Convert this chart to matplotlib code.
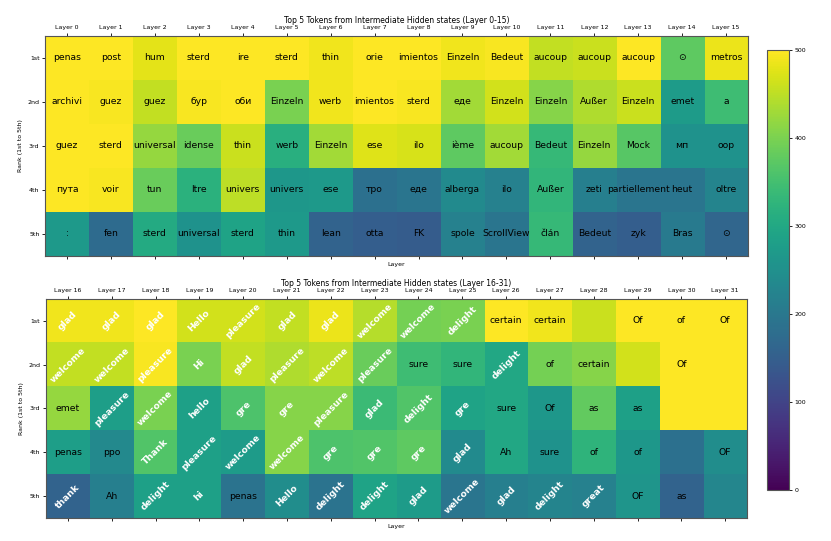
import matplotlib
matplotlib.use("Agg")
import matplotlib.pyplot as plt
import numpy as np

# Rangs et couches
ranks = ["1st", "2nd", "3rd", "4th", "5th"]
layers_top = [f"Layer {i}" for i in range(0, 16)]
layers_bottom = [f"Layer {i}" for i in range(16, 32)]

# Tokens des couches 0-15 (une ligne par rang)
tokens_top = [
    ["penas", "post", "hum", "sterd", "ire", "sterd", "thin", "orie", "imientos", "Einzeln", "Bedeut", "aucoup", "aucoup", "aucoup", "⊙", "metros"],
    ["archivi", "guez", "guez", "бур", "оби", "Einzeln", "werb", "imientos", "sterd", "еде", "Einzeln", "Einzeln", "Außer", "Einzeln", "emet", "a"],
    ["guez", "sterd", "universal", "idense", "thin", "werb", "Einzeln", "ese", "ilo", "ième", "aucoup", "Bedeut", "Einzeln", "Mock", "мп", "oop"],
    ["пута", "voir", "tun", "ltre", "univers", "univers", "ese", "тро", "еде", "alberga", "ilo", "Außer", "zeti", "partiellement", "heut", "oltre"],
    [":", "fen", "sterd", "universal", "sterd", "thin", "lean", "otta", "FK", "spole", "ScrollView", "člán", "Bedeut", "zyk", "Bras", "⊙"],
]
values_top = [
    [500, 500, 480, 500, 500, 500, 490, 500, 500, 490, 495, 455, 460, 500, 375, 485],
    [500, 495, 455, 495, 500, 400, 490, 500, 495, 430, 465, 410, 440, 460, 275, 345],
    [500, 500, 420, 385, 460, 315, 430, 475, 470, 375, 430, 335, 420, 370, 255, 255],
    [500, 495, 385, 320, 450, 265, 270, 185, 195, 240, 220, 330, 215, 195, 195, 225],
    [270, 175, 305, 255, 290, 270, 160, 150, 145, 220, 195, 335, 160, 150, 205, 165],
]

# Tokens des couches 16-31
tokens_bottom = [
    ["glad", "glad", "glad", "Hello", "pleasure", "glad", "glad", "welcome", "welcome", "delight", "certain", "certain", "", "Of", "of", "Of"],
    ["welcome", "welcome", "pleasure", "Hi", "glad", "pleasure", "welcome", "pleasure", "sure", "sure", "delight", "of", "certain", "", "Of", ""],
    ["emet", "pleasure", "welcome", "hello", "gre", "gre", "pleasure", "glad", "delight", "gre", "sure", "Of", "as", "as", "", ""],
    ["penas", "ppo", "Thank", "pleasure", "welcome", "welcome", "gre", "gre", "gre", "glad", "Ah", "sure", "of", "of", "", "OF"],
    ["thank", "Ah", "delight", "hi", "penas", "Hello", "delight", "delight", "glad", "welcome", "glad", "delight", "great", "OF", "as", ""],
]
values_bottom = [
    [490, 490, 500, 465, 465, 455, 485, 445, 395, 400, 500, 490, 460, 500, 500, 500],
    [455, 455, 495, 400, 455, 440, 450, 385, 345, 330, 300, 395, 410, 465, 500, 500],
    [420, 280, 400, 285, 360, 410, 410, 340, 365, 290, 300, 265, 380, 285, 500, 500],
    [280, 235, 365, 285, 275, 410, 360, 365, 375, 240, 300, 255, 325, 265, 185, 245],
    [160, 215, 285, 285, 190, 245, 190, 290, 275, 195, 215, 225, 220, 260, 160, 230],
]

# Tokens de salutation mis en évidence (blanc, gras, incliné)
greeting_tokens = ["glad", "welcome", "pleasure", "Hello", "Hi", "hello", "hi",
                   "gre", "Thank", "thank", "delight", "great"]

fig = plt.figure(figsize=(8.31, 5.41), dpi=100)
ax_top = fig.add_axes([0.0542, 0.527, 0.846, 0.407])
ax_bot = fig.add_axes([0.0542, 0.0425, 0.846, 0.405])
cax = fig.add_axes([0.923, 0.094, 0.0265, 0.813])


def draw_heatmap(ax, values, tokens, layers, title):
    im = ax.imshow(np.array(values), cmap="viridis", vmin=0, vmax=500)
    ax.set_xticks(range(len(layers)))
    ax.set_xticklabels(layers, fontsize=4.5)
    ax.set_yticks(range(len(ranks)))
    ax.set_yticklabels(ranks, fontsize=4.5)
    ax.tick_params(top=True, labeltop=True, bottom=True, labelbottom=False,
                   length=2.5, width=0.6, pad=1.5)
    ax.set_xlabel("Layer", fontsize=4.5, labelpad=2)
    ax.set_ylabel("Rank (1st to 5th)", fontsize=4.5, labelpad=3)
    ax.set_title(title, fontsize=5.5, pad=2)
    for spine in ax.spines.values():
        spine.set_color("#555555")
        spine.set_linewidth(0.8)
    for i, row in enumerate(tokens):
        for j, tok in enumerate(row):
            if tok in greeting_tokens:
                ax.text(j, i, tok, ha="center", va="center", color="white",
                        fontsize=6.7, fontweight="bold", rotation=45)
            else:
                ax.text(j, i, tok, ha="center", va="center", color="black",
                        fontsize=6.7)
    return im


im = draw_heatmap(ax_top, values_top, tokens_top, layers_top,
                  "Top 5 Tokens from Intermediate Hidden states (Layer 0-15)")
draw_heatmap(ax_bot, values_bottom, tokens_bottom, layers_bottom,
             "Top 5 Tokens from Intermediate Hidden states (Layer 16-31)")

cb = fig.colorbar(im, cax=cax, ticks=[0, 100, 200, 300, 400, 500])
cb.ax.tick_params(labelsize=4.5, length=2.5, width=0.6, pad=1.5)
cb.outline.set_edgecolor("#555555")
cb.outline.set_linewidth(0.8)

fig.savefig("out.png", dpi=100)
